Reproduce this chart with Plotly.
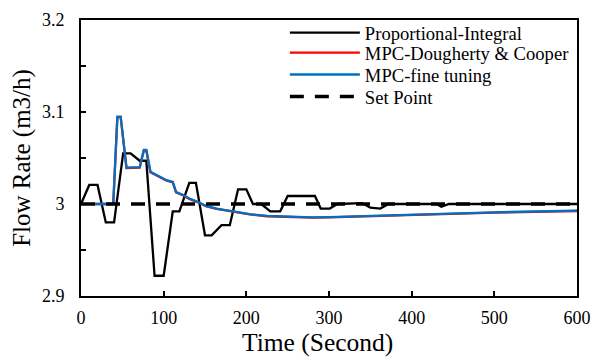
import plotly.graph_objects as go

# Proportional-Integral controller response (piecewise segments)
pi_time = [0, 10, 20, 30, 40, 51, 60, 71, 79, 89, 100, 111, 119, 131, 139, 150, 158, 170, 180,
           190, 200, 208, 218, 229, 241, 250, 283, 290, 301, 310, 340, 350, 362, 372, 430, 436, 445, 600]
pi_flow = [3.0, 3.0207, 3.0207, 2.980, 2.980, 3.055, 3.055, 3.047, 3.047, 2.922, 2.922, 2.992, 2.992,
           3.023, 3.023, 2.966, 2.966, 2.977, 2.977, 3.016, 3.016, 3.0, 3.0, 2.992, 2.992, 3.0087,
           3.0087, 2.995, 2.995, 3.0, 3.001, 2.996, 2.995, 3.0, 3.0, 2.997, 3.0, 3.0]

# MPC responses
mpc_time = [15, 39, 44, 48, 55, 71, 76, 79, 84, 95, 103, 111, 115, 123, 131, 141, 151, 164, 184,
            204, 225, 249, 265, 280, 300, 350, 410, 500, 600]
mpc_fine_flow = [3.0, 3.0, 3.095, 3.095, 3.0395, 3.040, 3.0587, 3.0587, 3.035, 3.030, 3.026, 3.024,
                 3.013, 3.010, 3.006, 3.0025, 2.998, 2.995, 2.9917, 2.989, 2.987, 2.986, 2.9858,
                 2.9855, 2.9858, 2.9870, 2.9890, 2.9910, 2.9927]
mpc_dc_flow = [3.0, 3.0, 3.0945, 3.0945, 3.0391, 3.0396, 3.0583, 3.0583, 3.0346, 3.0296, 3.0256, 3.0236,
               3.0126, 3.0096, 3.0056, 3.0021, 2.9976, 2.9946, 2.9914, 2.9887, 2.9867, 2.9857, 2.9855,
               2.9852, 2.9855, 2.9867, 2.9887, 2.9907, 2.9924]

sp_time = [0, 600]
sp_flow = [3.0, 3.0]

font_family = "Liberation Serif, Times New Roman, serif"
legend_font = dict(size=18.6, family=font_family, color="black")

fig = go.Figure()
fig.add_trace(go.Scatter(x=pi_time, y=pi_flow, mode="lines", name="Proportional-Integral",
                         line=dict(color="black", width=2.3), legend="legend"))
fig.add_trace(go.Scatter(x=mpc_time, y=mpc_dc_flow, mode="lines", name="MPC-Dougherty & Cooper",
                         line=dict(color="#ff0000", width=2.3), legend="legend2"))
fig.add_trace(go.Scatter(x=mpc_time, y=mpc_fine_flow, mode="lines", name="MPC-fine tuning",
                         line=dict(color="#0070c0", width=2.3), legend="legend3"))
fig.add_trace(go.Scatter(x=sp_time, y=sp_flow, mode="lines", name="Set Point",
                         line=dict(color="black", width=3.5, dash="14px,11px"), legend="legend4"))

def leg(yv):
    return dict(x=0.411, y=yv, xanchor="left", yanchor="middle", xref="paper", yref="paper",
                bgcolor="rgba(0,0,0,0)", font=legend_font, itemwidth=70, borderwidth=0)

fig.update_layout(
    width=592, height=358,
    margin=dict(l=81, r=15, t=20, b=62, autoexpand=False),
    paper_bgcolor="white", plot_bgcolor="white",
    font=dict(family=font_family, size=18, color="black"),
    showlegend=True,
    legend=leg(0.953), legend2=leg(0.880), legend3=leg(0.801), legend4=leg(0.721),
    xaxis=dict(range=[0, 600], dtick=100, tick0=0, showgrid=False, zeroline=False,
               showline=True, linecolor="black", linewidth=2, mirror=True,
               ticks="inside", ticklen=5, tickwidth=1.5, tickcolor="black",
               ticklabelstandoff=4,
               tickfont=dict(size=18, family=font_family)),
    yaxis=dict(range=[2.9, 3.2], dtick=0.1, tick0=2.9, showgrid=False, zeroline=False,
               showline=True, linecolor="black", linewidth=2, mirror=True,
               ticks="inside", ticklen=5, tickwidth=1.5, tickcolor="black",
               minor=dict(dtick=0.05, ticks="inside", ticklen=5, tickwidth=1.5, tickcolor="black"),
               tickformat="~g", ticklabelstandoff=11,
               title=dict(text="Flow Rate (m3/h)", font=dict(size=25, family=font_family), standoff=4),
               tickfont=dict(size=18, family=font_family)),
    annotations=[dict(text="Time (Second)", xref="paper", yref="paper", x=0.4768, y=-0.2246,
                      xanchor="center", yanchor="bottom", showarrow=False, borderpad=0,
                      font=dict(size=25.5, family=font_family, color="black"))],
)

fig.write_html("out.html")
